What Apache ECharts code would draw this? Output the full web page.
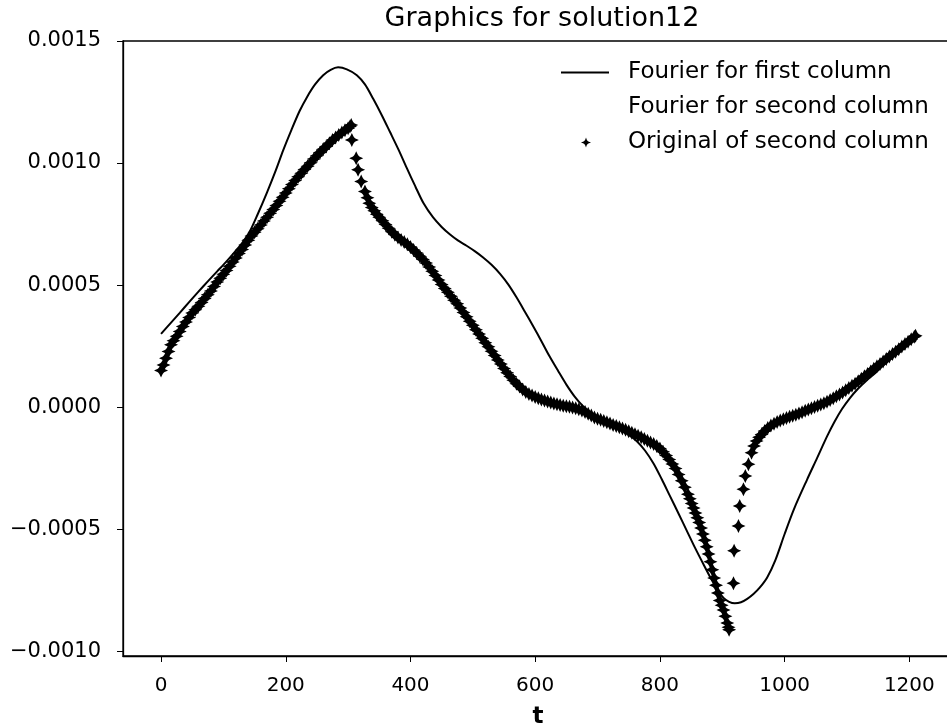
<!DOCTYPE html>
<html>
<head>
<meta charset="utf-8">
<title>Graphics for solution12</title>
<script src="https://cdn.jsdelivr.net/npm/echarts@6/dist/echarts.min.js"></script>
<style>
  html, body { margin: 0; padding: 0; background: #fff; }
  #chart { width: 947px; height: 724px; }
</style>
</head>
<body>
<div id="chart"></div>
<script>
// all y values below are in units of 1e-6
const UNIT = 1e-6;

// Fourier fit of the first column, [t, value]
const fourierFirst = [
  [0, 300], [15, 343], [30, 386], [45, 430], [60, 473], [75, 515], [90, 556], [105, 597],
  [118, 635], [130, 672], [142, 718], [155, 790], [170, 880], [184, 970], [196, 1053],
  [209, 1135], [222, 1212], [234, 1270], [247, 1322], [260, 1360], [272, 1382], [284, 1392],
  [298, 1384], [314, 1360], [327, 1322], [340, 1264], [354, 1196], [367, 1128], [381, 1054],
  [394, 980], [408, 903], [421, 835], [436, 778], [450, 738], [463, 708], [476, 683],
  [490, 661], [503, 639], [516, 614], [530, 583], [544, 545], [557, 502], [570, 450],
  [583, 393], [597, 330], [610, 270], [623, 208], [637, 147], [650, 92], [663, 44],
  [676, 6], [690, -24], [704, -50], [720, -73], [735, -92], [749, -112], [763, -140],
  [776, -178], [790, -232], [803, -296], [816, -364], [830, -437], [843, -506], [856, -575],
  [870, -645], [883, -708], [893, -752], [902, -782], [911, -798], [920, -804], [930, -800],
  [940, -786], [950, -766], [960, -740], [972, -698], [985, -628], [1000, -520], [1015, -418],
  [1036, -297], [1052, -209], [1068, -120], [1080, -60], [1092, -8], [1105, 38], [1118, 76],
  [1131, 108], [1145, 139], [1165, 188], [1186, 240], [1207, 296]
];

// Fourier fit of the second column is drawn in white in the original
const fourierSecond = [];

// original samples of the second column, [t, value]
const origSecond = [
  [0, 150], [4, 172], [8, 200], [12, 228], [16, 255], [20, 272], [25, 290], [30, 310],
  [35, 330], [40, 349], [45, 367], [50, 385], [55, 399], [60, 413], [65, 428], [70, 445],
  [75, 460], [80, 476], [85, 494], [90, 512], [95, 528], [100, 544], [105, 560], [110, 577],
  [115, 594], [120, 611], [125, 629], [130, 646], [135, 664], [140, 684], [145, 701],
  [150, 716], [155, 731], [160, 746], [165, 762], [170, 778], [175, 794], [180, 810],
  [185, 826], [190, 843], [195, 860], [200, 877], [205, 895], [210, 912], [215, 928],
  [220, 944], [225, 958], [230, 973], [235, 987], [240, 1001], [245, 1016], [250, 1030],
  [255, 1043], [260, 1056], [265, 1068], [270, 1081], [275, 1094], [280, 1105], [285, 1115],
  [290, 1125], [295, 1134], [300, 1142], [303, 1150], [305, 1156],
  [306, 1094], [313, 1020], [316, 972], [321, 924], [327, 883], [331, 858], [334, 835],
  [338, 818], [342, 804], [346, 790],
  [350, 778], [355, 763], [360, 748], [365, 733], [370, 718], [375, 706], [380, 695],
  [385, 685], [390, 676], [395, 667], [400, 656], [405, 644], [410, 631], [415, 618],
  [420, 605], [425, 590], [430, 574], [435, 557], [440, 539], [445, 521], [450, 502],
  [455, 486], [460, 470], [465, 454], [470, 438], [475, 423], [480, 406], [485, 388],
  [490, 370], [495, 352], [500, 335], [505, 317], [510, 299], [515, 282], [520, 264],
  [525, 247], [530, 229], [535, 211], [540, 193], [545, 176], [550, 158], [555, 141],
  [560, 125], [565, 110], [570, 96], [575, 84], [580, 72], [585, 62], [590, 54], [595, 47],
  [600, 41], [605, 36], [610, 31], [615, 27], [620, 23], [625, 19], [630, 15], [635, 12],
  [640, 8], [645, 5], [650, 3], [655, 1], [660, -2], [665, -5], [670, -9], [675, -14],
  [680, -20], [685, -27], [690, -35], [695, -43], [700, -48], [705, -52], [710, -57],
  [715, -62], [720, -67], [725, -73], [730, -78], [735, -83], [740, -88], [745, -93],
  [750, -99], [755, -105], [760, -111], [765, -118], [770, -124], [775, -131], [780, -138],
  [785, -145], [790, -151], [795, -160], [800, -170], [805, -183], [810, -198], [815, -215],
  [820, -233], [825, -252], [830, -276], [835, -302], [840, -329], [845, -357], [848, -376],
  [851, -395], [854, -414], [857, -434], [860, -453], [863, -473], [866, -496], [869, -520],
  [872, -546], [875, -572], [878, -602], [881, -634], [884, -667], [887, -700], [890, -730],
  [893, -762], [896, -793], [899, -812], [902, -832], [905, -857], [908, -885], [910, -902],
  [911, -912],
  [918, -722], [919, -589], [926, -487], [928, -405], [934, -337], [937, -282], [942, -234],
  [947, -187], [951, -160], [955, -139], [959, -124], [963, -112],
  [968, -98], [973, -86], [978, -76], [983, -68], [988, -61], [993, -55], [998, -50],
  [1003, -45], [1008, -40], [1013, -36], [1018, -31], [1023, -26], [1028, -21], [1033, -15],
  [1038, -10], [1043, -5], [1048, 0], [1053, 5], [1058, 11], [1063, 16], [1068, 22],
  [1073, 29], [1078, 36], [1083, 44], [1088, 52], [1093, 60], [1098, 69], [1103, 78],
  [1108, 87], [1113, 96], [1118, 106], [1123, 116], [1128, 126], [1133, 136], [1138, 146],
  [1143, 157], [1148, 167], [1153, 177], [1158, 187], [1163, 197], [1168, 207], [1173, 217],
  [1178, 227], [1183, 237], [1188, 248], [1193, 258], [1198, 268], [1203, 278], [1208, 288],
  [1210, 292]
];

const xTicks = [0, 200, 400, 600, 800, 1000, 1200];
const yTicks = [-0.001, -0.0005, 0, 0.0005, 0.001, 0.0015];

const seriesNames = ['Fourier for first column', 'Fourier for second column', 'Original of second column'];

const scale = pts => pts.map(p => [p[0], p[1] * UNIT]);

// 4 point star marker
const starPath = 'path://M0,-5C1.5,-1.5 1.5,-1.5 5,0C1.5,1.5 1.5,1.5 0,5C-1.5,1.5 -1.5,1.5 -5,0C-1.5,-1.5 -1.5,-1.5 0,-5Z';
// legend icons: the leading moveTo points only widen the box so the text sits further right
const legendLine = 'path://M0,-7M62,7M0,-1.1L48,-1.1L48,1.1L0,1.1Z';
const legendStar = 'path://M0,-7M62,7M25,-5C26.3,-1.3 26.3,-1.3 30,0C26.3,1.3 26.3,1.3 25,5C23.7,1.3 23.7,1.3 20,0C23.7,-1.3 23.7,-1.3 25,-5Z';

const font = 'DejaVu Sans';
const axisLineStyle = { color: '#000', width: 1.3 };

const chart = echarts.init(document.getElementById('chart'));

chart.setOption({
  animation: false,
  backgroundColor: '#fff',
  textStyle: { fontFamily: font, color: '#000' },
  title: {
    text: 'Graphics for solution12',
    left: 537,
    top: 0,
    textAlign: 'center',
    textStyle: { fontFamily: font, fontSize: 27, fontWeight: 'normal', color: '#000' }
  },
  legend: {
    orient: 'vertical',
    left: 556,
    top: 56,
    itemWidth: 62,
    itemHeight: 14,
    itemGap: 12,
    selectedMode: false,
    textStyle: { fontFamily: font, fontSize: 23, color: '#000' },
    data: [
      { name: seriesNames[0], icon: legendLine },
      { name: seriesNames[1], icon: legendLine },
      { name: seriesNames[2], icon: legendStar }
    ]
  },
  grid: {
    left: 123, right: -6, top: 41, bottom: 68,
    outerBoundsMode: 'none',
    show: true, borderColor: '#000', borderWidth: 1.3
  },
  xAxis: {
    type: 'value',
    min: -61,
    max: 1270,
    name: 't',
    nameLocation: 'middle',
    nameGap: 50,
    nameTextStyle: { fontFamily: font, fontSize: 23, fontWeight: 'bold', color: '#000' },
    axisLine: { onZero: false, lineStyle: axisLineStyle },
    axisTick: { customValues: xTicks, length: 6, lineStyle: { color: '#000' } },
    axisLabel: {
      customValues: xTicks,
      fontSize: 20,
      margin: 20,
      color: '#000',
      formatter: v => String(v)
    },
    splitLine: { show: false }
  },
  yAxis: {
    type: 'value',
    min: -0.00102,
    max: 0.0015,
    axisLine: { show: true, onZero: false, lineStyle: axisLineStyle },
    axisTick: { show: true, customValues: yTicks, length: 6, lineStyle: { color: '#000' } },
    axisLabel: {
      customValues: yTicks,
      fontSize: 21,
      margin: 22,
      color: '#000',
      formatter: v => (v < 0 ? '\u2212' : '') + Math.abs(v).toFixed(4)
    },
    splitLine: { show: false }
  },
  series: [
    {
      name: seriesNames[0],
      type: 'line',
      data: scale(fourierFirst),
      smooth: 0.3,
      symbol: 'none',
      color: '#000',
      lineStyle: { color: '#000', width: 2 }
    },
    {
      name: seriesNames[1],
      type: 'line',
      data: scale(fourierSecond),
      symbol: 'none',
      color: '#fff',
      lineStyle: { color: '#fff', width: 2 }
    },
    {
      name: seriesNames[2],
      type: 'scatter',
      data: scale(origSecond),
      symbol: starPath,
      symbolSize: 14,
      color: '#000',
      itemStyle: { color: '#000', opacity: 1 }
    }
  ]
});
</script>
</body>
</html>
